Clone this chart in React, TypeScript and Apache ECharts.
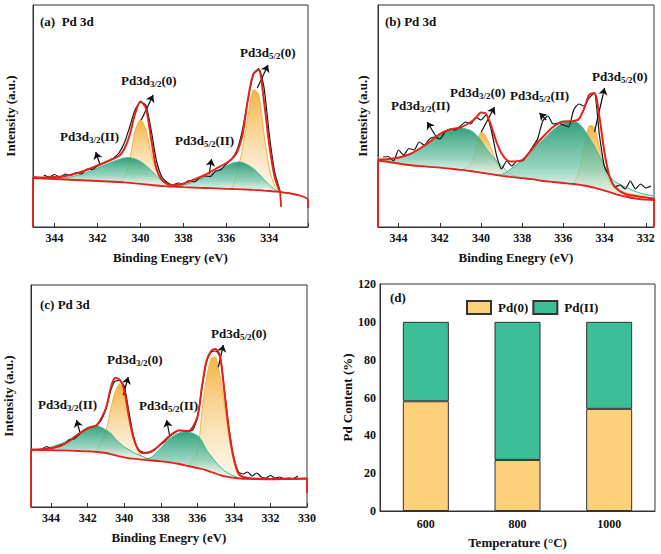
import { useEffect, useRef } from "react";
import * as echarts from "echarts";

const FONT = '"Liberation Serif", "Times New Roman", serif';

// ---------- Panel (a) ----------
const aE = [345, 344.5, 344, 343.5, 343, 342.5, 342, 341.5, 341, 340.75, 340.5, 340.25, 340, 339.75, 339.5, 339.25, 339, 338.75, 338.5, 338, 337.5, 337, 336.5, 336, 335.75, 335.5, 335.25, 335, 334.75, 334.5, 334.25, 334, 333.75, 333.5, 333, 332.5, 332.2];
const aBg = [49, 48.5, 48, 47.5, 47, 46.5, 46, 45.5, 45, 44.6, 44.2, 43.7, 43.2, 42.6, 42, 41.5, 41, 40.6, 40.3, 39.8, 39.4, 39, 38.6, 38.2, 38, 37.8, 37.6, 37.4, 37.1, 36.8, 36.4, 36, 35.5, 35, 33.5, 31, 28];
const aEnv = [50, 49.5, 50, 51, 53.5, 57, 61.5, 66, 71, 78, 92, 113, 125.5, 119, 88, 58, 47, 43, 41.5, 43.5, 47.5, 52, 58, 64, 68, 75, 92, 127, 153, 157, 126, 82, 50, 35, null, null, null];
const aG1 = [null, 48.7, 48.6, 49.3, 51.3, 54.5, 59, 63.5, 67.5, 69, 69.3, 68, 65.5, 61.5, 56.5, 51, 46.5, 43, 40.8, null, null, null, null, null, null, null, null, null, null, null, null, null, null, null, null, null, null];
const aO1 = [null, null, null, null, null, null, null, null, 45.2, 50, 67, 96, 107.5, 98, 74, 56, 46.5, 42, 40.5, null, null, null, null, null, null, null, null, null, null, null, null, null, null, null, null, null, null];
const aG2 = [null, null, null, null, null, null, null, null, null, null, null, null, null, null, null, null, null, null, 40.5, 41.8, 45.5, 50, 55.5, 61, 63.5, 65, 64.5, 62, 58.5, 53.5, 47.5, 42, 37.5, 35.2, null, null, null];
const aO2 = [null, null, null, null, null, null, null, null, null, null, null, null, null, null, null, null, null, null, null, null, null, null, null, null, 39, 54, 78, 110, 137, 133, 93, 58, 41, 35.3, null, null, null];
const aRawE = [344.5, 344.25, 344, 343.75, 343.5, 343.25, 343, 342.75, 342.5, 342.25, 342, 341.75, 341.5, 341.25, 341, 340.75, 340.5, 340.25, 340, 339.75, 339.5, 339.25, 339, 338.75, 338.5, 338.25, 338, 337.75, 337.5, 337.25, 337, 336.75, 336.5, 336.25, 336, 335.75, 335.5, 335.25, 335, 334.75, 334.5, 334.25, 334, 333.75, 333.5];
const aRaw = [52, 50, 52.5, 49.5, 53, 51.5, 54.5, 53, 58, 57.5, 61, 63.5, 66, 69, 74, 84, 100, 117, 124.5, 122, 97, 66, 50, 44.5, 42, 44, 43, 46.5, 45, 49, 51, 50.5, 56, 57.5, 63, 68, 77, 97, 127, 152, 158.5, 140, 92, 55, 36];
const aEdges = [[[345, 50], [345, 0]], [[333.5, 35], [333.45, 20]], [[332.2, 28], [332.2, 19]]];
const aArrows = [[[339.96, 107], [339.41, 132]], [[341.89, 63], [342.08, 75]], [[336.8, 53], [336.69, 68]], [[334.56, 139], [334.06, 162]]];

// ---------- Panel (b) ----------
const bE = [345, 344.5, 344, 343.5, 343, 342.5, 342, 341.5, 341, 340.5, 340.25, 340, 339.75, 339.5, 339.25, 339, 338.75, 338.5, 338, 337.5, 337, 336.5, 336, 335.5, 335.25, 335, 334.75, 334.5, 334.25, 334, 333.75, 333.5, 333, 332.5, 332, 331.6];
const bBg = [66.5, 65, 63.5, 62, 61, 60.2, 59.4, 58.3, 57.2, 56, 55.2, 54.4, 53.6, 52.8, 52, 51.2, 50.5, 49.8, 48.8, 47.8, 46, 45, 44, 43, 42.3, 41.5, 40.5, 39.3, 37.8, 36.3, 34.8, 33.2, 30.5, 28.5, 27.3, 27];
const bEnv = [67, 68, 69.5, 72.5, 78, 85, 93, 97.5, 99.5, 105, 109, 114.5, 113, 101, 85, 73.5, 67, 65.5, 67, 78.5, 90, 100, 105.5, 106, 108, 118, 132, 134, 110, 74, 50, 40, 33, 31, 29.5, 28.5];
const bG1 = [null, 67.5, 69, 72, 77.5, 84.5, 92, 96.5, 99, 96.5, 92.5, 86.5, 78.5, 72, 66, 61.5, 56, 52, 49.2, null, null, null, null, null, null, null, null, null, null, null, null, null, null, null, null, null];
const bO1 = [70, 66.5, null, null, null, null, null, null, null, 62, 80, 95, 90, 78, 65, 56, 52, null, null, null, null, null, null, null, null, null, null, null, null, null, null, null, null, null, null, null];
const bG2 = [null, null, null, null, null, null, null, null, null, null, null, null, null, null, null, 52.5, 55, 59, 66.5, 77, 87, 97, 104, 105.5, 103.5, 97.5, 89.5, 81, 71, 61, 51, 45.5, 40, 35.5, 32.5, 31];
const bO2 = [null, null, null, null, null, null, null, null, null, null, null, null, null, null, null, null, null, null, null, null, null, null, null, 44, 55, 80, 101, 100, 80, 59, 45, 38.5, 34.5, 32.5, 31.5, 31];
const bRawE = [344.75, 344.5, 344.25, 344, 343.75, 343.5, 343.25, 343, 342.75, 342.5, 342.25, 342, 341.75, 341.5, 341.25, 341, 340.75, 340.5, 340.25, 340, 339.75, 339.5, 339.25, 339, 338.75, 338.5, 338.25, 338, 337.75, 337.5, 337.25, 337, 336.75, 336.5, 336.25, 336, 335.75, 335.5, 335.25, 335, 334.75, 334.5, 334.25, 334, 333.75, 333.5, 333.25, 333, 332.75, 332.5, 332.25, 332, 331.75];
const bRaw = [70, 70.5, 66, 77, 72, 78.5, 77, 85, 82, 88, 90, 88, 95, 98, 97, 101, 105, 103, 110, 107, 112, 97, 72, 58, 66, 61, 66, 66, 72, 80, 88, 106, 111, 103, 104, 102, 100, 117, 123, 121, 129, 134, 92, 60, 50, 40, 42, 38, 46, 38, 43, 39, 41];
const bEdges = [[[345, 67], [345, 0]], [[331.6, 28.5], [331.6, 0]]];
const bArrows = [[[342.14, 89], [342.61, 105]], [[339.99, 95], [339.34, 120]], [[336.83, 107], [337.16, 114]], [[334.49, 95], [334.0, 139]]];

// ---------- Panel (c) ----------
const cE = [345.1, 344.5, 344, 343.5, 343, 342.5, 342, 341.5, 341, 340.75, 340.5, 340.25, 340, 339.75, 339.5, 339.25, 339, 338.5, 338, 337.5, 337, 336.5, 336, 335.75, 335.5, 335.25, 335, 334.75, 334.5, 334.25, 334, 333.75, 333.5, 333, 332, 331, 330];
const cBg = [57, 57, 56.8, 56.6, 56.4, 56, 55.6, 55, 54, 53, 51.8, 50.6, 49.6, 48.8, 48.3, 47.8, 47.3, 46.5, 45.7, 44.6, 43, 41, 39, 38, 36.6, 35, 33.5, 31.8, 30.6, 29.8, 29.2, 28.6, 28.2, 28, 27.7, 28, 28.3];
const cEnv = [57.5, 57.8, 58.8, 61, 66, 73, 78.5, 82, 99, 118, 129, 127.5, 117, 91, 69.5, 58, 54, 55.5, 63, 71.5, 76.5, 76, 90, 120, 146, 156, 158, 150, 112, 74, 48, 33.5, 30, 28.5, 28, 28.2, 28.5];
const cG1 = [null, 58, 60, 63, 67.5, 73.5, 79.5, 81.5, 77, 74, 68.5, 64, 60, 57.5, 54.5, 52.5, 50.5, 47, null, null, null, null, null, null, null, null, null, null, null, null, null, null, null, null, null, null, null];
const cO1 = [null, null, null, null, null, null, null, null, 76, 97, 115, 123, 112, 92, 72, 56, 50, 47, null, null, null, null, null, null, null, null, null, null, null, null, null, null, null, null, null, null, null];
const cG2 = [null, null, null, null, null, null, null, null, null, null, null, null, null, null, null, null, 47.5, 50, 59, 68.5, 74, 75, 71.5, 66, 57, 51, 45, 40, 36, 33, 31, 29.3, null, null, null, null, null];
const cO2 = [null, null, null, null, null, null, null, null, null, null, null, null, null, null, null, null, null, null, null, null, null, null, 55, 95, 128, 148, 150, 130, 100, 68, 46, 32, 28.5, null, null, null, null];
const cRawE = [344.5, 344.25, 344, 343.75, 343.5, 343.25, 343, 342.75, 342.5, 342.25, 342, 341.75, 341.5, 341.25, 341, 340.75, 340.5, 340.25, 340, 339.75, 339.5, 339.25, 339, 338.75, 338.5, 338.25, 338, 337.75, 337.5, 337.25, 337, 336.75, 336.5, 336.25, 336, 335.75, 335.5, 335.25, 335, 334.75, 334.5, 334.25, 334, 333.75, 333.5, 333.25, 333, 332.75, 332.5, 332.25, 332, 331.75, 331.5, 331.25, 331, 330.75, 330.5];
const cRaw = [58, 60.5, 58.5, 60, 62, 63, 67.5, 68, 72, 76, 79, 80, 82, 87, 98, 116, 126, 126.5, 121, 96, 71, 58, 55, 54, 56, 59, 62.5, 66, 71, 74, 77, 76, 75.5, 77, 89, 119, 145, 155, 156, 150, 114, 76, 49, 35, 33, 35, 31, 34, 30, 29, 31.5, 29, 30, 28.5, 29, 28.5, 31];
const cEdges = [[[345.1, 57.5], [345.1, 0]], [[330, 28.5], [330, 14]]];
const cArrows = [[[342.43, 75], [342.61, 87]], [[340.05, 112], [339.78, 130]], [[337.5, 70], [337.68, 87]], [[334.85, 140], [334.58, 162]]];

// ---------- Panel (d) ----------
const dCategories = ["600", "800", "1000"];
const dPd0 = [58, 27, 54];
const dPd2 = [42, 73, 46];

// ---------- Peak labels ----------
const peakLabels = [
  { sub: "3/2", st: "II", x: 60, y: 138 },
  { sub: "3/2", st: "0", x: 121, y: 82 },
  { sub: "5/2", st: "II", x: 175, y: 142 },
  { sub: "5/2", st: "0", x: 240, y: 54 },
  { sub: "3/2", st: "II", x: 391, y: 107 },
  { sub: "3/2", st: "0", x: 450, y: 94 },
  { sub: "5/2", st: "II", x: 510, y: 97 },
  { sub: "5/2", st: "0", x: 592, y: 78 },
  { sub: "3/2", st: "II", x: 38, y: 406 },
  { sub: "3/2", st: "0", x: 107, y: 361 },
  { sub: "5/2", st: "II", x: 139, y: 407 },
  { sub: "5/2", st: "0", x: 211, y: 335 },
];
const panelTitles = [
  { text: "(a)  Pd 3d", x: 40, y: 15 },
  { text: "(b) Pd 3d", x: 385, y: 15 },
  { text: "(c) Pd 3d", x: 40, y: 298 },
  { text: "(d)", x: 390, y: 291 },
];

const RED = "#E3231B";
const ORANGE_LINE = "#F3B43E";
const GREEN_LINE = "#3AB893";
const ORANGE_FILL = {
  type: "linear", x: 0, y: 0, x2: 0, y2: 1, global: false,
  colorStops: [
    { offset: 0, color: "rgba(244,176,56,0.95)" },
    { offset: 1, color: "rgba(253,242,224,0.55)" },
  ],
};
const GREEN_FILL = {
  type: "linear", x: 0, y: 0, x2: 0, y2: 1, global: false,
  colorStops: [
    { offset: 0, color: "rgba(36,152,114,0.93)" },
    { offset: 0.6, color: "rgba(122,201,174,0.78)" },
    { offset: 1, color: "rgba(236,247,243,0.45)" },
  ],
};

const panels = [
  { E: aE, bg: aBg, env: aEnv, g1: aG1, o1: aO1, g2: aG2, o2: aO2, rawE: aRawE, raw: aRaw, edges: aEdges, arrows: aArrows, min: 332.2, max: 345, grid: { left: 33, top: 5, width: 275, height: 222 }, yGap: 16 },
  { E: bE, bg: bBg, env: bEnv, g1: bG1, o1: bO1, g2: bG2, o2: bO2, rawE: bRawE, raw: bRaw, edges: bEdges, arrows: bArrows, min: 331.6, max: 345, grid: { left: 378, top: 5, width: 276, height: 222 }, yGap: 9 },
  { E: cE, bg: cBg, env: cEnv, g1: cG1, o1: cO1, g2: cG2, o2: cO2, rawE: cRawE, raw: cRaw, edges: cEdges, arrows: cArrows, min: 330, max: 345.1, grid: { left: 31, top: 285, width: 276, height: 222 }, yGap: 16 },
];

const nameStyle = { fontFamily: FONT, fontWeight: "bold", fontSize: 13, color: "#111" };
const labelStyle = { fontFamily: FONT, fontWeight: "bold", fontSize: 12, color: "#111" };

// A fitted component: area between the component curve and the background.
function componentSeries(k: number, E: number[], bg: number[], c: (number | null)[], fill: any, stroke: string, z: number) {
  const idx = c.map((v, i) => (v == null ? -1 : i)).filter((i) => i >= 0);
  const i0 = Math.max(0, idx[0] - 1);
  const i1 = Math.min(E.length - 1, idx[idx.length - 1] + 1);
  return {
    type: "custom", xAxisIndex: k, yAxisIndex: k, z, silent: true, clip: true,
    encode: { x: 0, y: 1 },
    data: [[E[i0], bg[i0]]],
    renderItem: (_params: any, api: any) => {
      const top: number[][] = [];
      const bot: number[][] = [];
      for (let i = i0; i <= i1; i++) {
        const v = c[i] == null ? bg[i] : Math.max(c[i] as number, bg[i]);
        top.push(api.coord([E[i], v]));
        if (i !== i0 && i !== i1) bot.push(api.coord([E[i], bg[i]]));
      }
      bot.reverse();
      return {
        type: "group",
        children: [
          { type: "polygon", shape: { points: top.concat(bot), smooth: 0.25 }, style: { fill, stroke: "none" } },
          { type: "polyline", shape: { points: top, smooth: 0.25 }, style: { stroke, lineWidth: 1, fill: "none" } },
        ],
      };
    },
  };
}

function xpsSeries(k: number, p: any) {
  const s: any[] = [];
  s.push(componentSeries(k, p.E, p.bg, p.o1, ORANGE_FILL, ORANGE_LINE, 2));
  s.push(componentSeries(k, p.E, p.bg, p.o2, ORANGE_FILL, ORANGE_LINE, 2));
  s.push(componentSeries(k, p.E, p.bg, p.g1, GREEN_FILL, GREEN_LINE, 3));
  s.push(componentSeries(k, p.E, p.bg, p.g2, GREEN_FILL, GREEN_LINE, 3));
  s.push({
    type: "line", xAxisIndex: k, yAxisIndex: k, smooth: 0.2, symbol: "none", silent: true, z: 4,
    data: p.rawE.map((x: number, i: number) => [x, p.raw[i]]),
    lineStyle: { color: "#151515", width: 1.2 },
  });
  s.push({
    type: "line", xAxisIndex: k, yAxisIndex: k, smooth: 0.3, symbol: "none", silent: true, z: 5,
    data: p.E.map((x: number, i: number) => [x, p.bg[i]]),
    lineStyle: { color: RED, width: 1.8 },
  });
  s.push({
    type: "line", xAxisIndex: k, yAxisIndex: k, smooth: 0.3, symbol: "none", silent: true, z: 6,
    data: p.E.map((x: number, i: number) => (p.env[i] == null ? null : [x, p.env[i]])).filter((d: any) => d),
    lineStyle: { color: RED, width: 2 },
    markLine: {
      silent: true, symbol: ["none", "arrow"], symbolSize: 7, animation: false,
      lineStyle: { color: "#111", width: 1.2, type: "solid" },
      label: { show: false }, emphasis: { disabled: true },
      data: p.arrows.map((a: number[][]) => [{ coord: a[0] }, { coord: a[1] }]),
    },
  });
  p.edges.forEach((e: number[][]) => {
    s.push({
      type: "line", xAxisIndex: k, yAxisIndex: k, symbol: "none", silent: true, z: 6,
      data: e, lineStyle: { color: RED, width: 1.8 },
    });
  });
  return s;
}

export default function App() {
  const ref = useRef<HTMLDivElement>(null);
  useEffect(() => {
    document.body.style.margin = "0";
    if (!ref.current) return;
    const chart = echarts.init(ref.current, undefined, { renderer: "svg" });

    const grids: any[] = panels.map((p) => ({ ...p.grid, show: true, borderColor: "#333", borderWidth: 1, containLabel: false }));
    grids.push({ left: 380, top: 284, width: 275, height: 227, show: true, borderColor: "#333", borderWidth: 1 });

    const xAxes: any[] = panels.map((p, k) => ({
      gridIndex: k, type: "value", inverse: true, min: p.min, max: p.max,
      minInterval: 2, maxInterval: 2,
      axisLine: { show: true, lineStyle: { color: "#333" } },
      axisTick: { show: true, inside: true, length: 4, lineStyle: { color: "#333" } },
      axisLabel: {
        ...labelStyle, margin: 5,
        formatter: (v: number) => (Math.abs(v - Math.round(v)) < 1e-6 && Math.round(v) % 2 === 0 ? String(Math.round(v)) : ""),
      },
      splitLine: { show: false },
      name: "Binding Enegry (eV)", nameLocation: "middle", nameGap: 24, nameTextStyle: nameStyle,
    }));
    xAxes.push({
      gridIndex: 3, type: "category", data: dCategories,
      axisLine: { show: true, lineStyle: { color: "#333" } },
      axisTick: { show: false }, axisLabel: { ...labelStyle, margin: 7 },
      name: "Temperature (°C)", nameLocation: "middle", nameGap: 25, nameTextStyle: nameStyle,
    });

    const yAxes: any[] = panels.map((p, k) => ({
      gridIndex: k, type: "value", min: 0, max: 222,
      axisLine: { show: true, lineStyle: { color: "#333" } },
      axisTick: { show: false }, axisLabel: { show: false }, splitLine: { show: false },
      name: "Intensity (a.u.)", nameLocation: "middle", nameGap: p.yGap, nameTextStyle: nameStyle,
    }));
    yAxes.push({
      gridIndex: 3, type: "value", min: 0, max: 120, interval: 20,
      axisLine: { show: true, lineStyle: { color: "#333" } },
      axisTick: { show: false }, axisLabel: { ...labelStyle, margin: 4 }, splitLine: { show: false },
      name: "Pd Content (%)", nameLocation: "middle", nameGap: 23, nameTextStyle: nameStyle,
    });

    const series: any[] = [];
    panels.forEach((p, k) => series.push(...xpsSeries(k, p)));
    series.push({
      name: "Pd(0)", type: "bar", xAxisIndex: 3, yAxisIndex: 3, stack: "d", barWidth: 46, data: dPd0,
      itemStyle: { color: "#FDD17B", borderColor: "#333", borderWidth: 1 },
    });
    series.push({
      name: "Pd(II)", type: "bar", xAxisIndex: 3, yAxisIndex: 3, stack: "d", barWidth: 46, data: dPd2,
      itemStyle: { color: "#3DBE98", borderColor: "#333", borderWidth: 1 },
    });

    const graphic: any[] = [];
    panelTitles.forEach((t) =>
      graphic.push({ type: "text", left: t.x, top: t.y, z: 100, style: { text: t.text, font: `bold 13px ${FONT}`, fill: "#111" } })
    );
    peakLabels.forEach((l) =>
      graphic.push({
        type: "text", left: l.x, top: l.y - 8, z: 100,
        style: {
          text: `{n|Pd3d}{s|${l.sub}}{n|(${l.st})}`,
          rich: {
            n: { fontFamily: FONT, fontWeight: "bold", fontSize: 13, fill: "#111", lineHeight: 16 },
            s: { fontFamily: FONT, fontWeight: "bold", fontSize: 9, fill: "#111", lineHeight: 10, verticalAlign: "bottom", padding: [5, 0, 0, 0] },
          },
        },
      })
    );

    chart.setOption({
      animation: false,
      backgroundColor: "#fff",
      grid: grids,
      xAxis: xAxes,
      yAxis: yAxes,
      legend: {
        left: 461, top: 295, itemWidth: 24, itemHeight: 13, itemGap: 4,
        data: ["Pd(0)", "Pd(II)"], icon: "rect",
        textStyle: { fontFamily: FONT, fontWeight: "bold", fontSize: 13, color: "#111", padding: [0, 0, 0, 2] },
      },
      series,
      graphic,
    });
    return () => chart.dispose();
  }, []);
  return <div ref={ref} style={{ width: 661, height: 554 }} />;
}
